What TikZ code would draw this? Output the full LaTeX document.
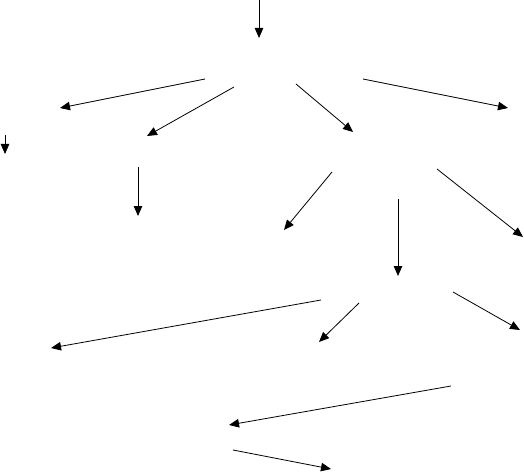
\documentclass[tikz,border=0pt]{standalone}
\usetikzlibrary{arrows.meta}

\begin{document}
\begin{tikzpicture}[
    x=1pt, y=-1pt,
    edge/.style={draw, line width=0.8pt, -{Triangle[length=10pt, width=8.5pt]}}
  ]
  \useasboundingbox (0,0) rectangle (524,473);

  % top level
  \coordinate (rootIn) at (259,0);
  \coordinate (rootOut) at (259,38);

  % second level
  \coordinate (l2aFrom) at (205,79);
  \coordinate (l2aTo) at (60,108);
  \coordinate (l2bFrom) at (234,87);
  \coordinate (l2bTo) at (147,136);
  \coordinate (l2cFrom) at (296,84);
  \coordinate (l2cTo) at (353,132);
  \coordinate (l2dFrom) at (363,79);
  \coordinate (l2dTo) at (508,108);

  % third level
  \coordinate (l3aFrom) at (5,135);
  \coordinate (l3aTo) at (5,154);
  \coordinate (l3bFrom) at (138,167);
  \coordinate (l3bTo) at (138,216);
  \coordinate (l3cFrom) at (332,172);
  \coordinate (l3cTo) at (284,230);
  \coordinate (l3dFrom) at (437,169);
  \coordinate (l3dTo) at (523,237);
  \coordinate (l3eFrom) at (398,199);
  \coordinate (l3eTo) at (398,276);

  % fourth level
  \coordinate (l4aFrom) at (321,300);
  \coordinate (l4aTo) at (51,348);
  \coordinate (l4bFrom) at (359,303);
  \coordinate (l4bTo) at (319,342);
  \coordinate (l4cFrom) at (453,292);
  \coordinate (l4cTo) at (520,330);

  % bottom
  \coordinate (l5aFrom) at (451,386);
  \coordinate (l5aTo) at (229,425);
  \coordinate (l5bFrom) at (233,450);
  \coordinate (l5bTo) at (331,469);

  \path[edge] (rootIn) -- (rootOut);
  \path[edge] (l2aFrom) -- (l2aTo);
  \path[edge] (l2bFrom) -- (l2bTo);
  \path[edge] (l2cFrom) -- (l2cTo);
  \path[edge] (l2dFrom) -- (l2dTo);
  \path[edge] (l3aFrom) -- (l3aTo);
  \path[edge] (l3bFrom) -- (l3bTo);
  \path[edge] (l3cFrom) -- (l3cTo);
  \path[edge] (l3dFrom) -- (l3dTo);
  \path[edge] (l3eFrom) -- (l3eTo);
  \path[edge] (l4aFrom) -- (l4aTo);
  \path[edge] (l4bFrom) -- (l4bTo);
  \path[edge] (l4cFrom) -- (l4cTo);
  \path[edge] (l5aFrom) -- (l5aTo);
  \path[edge] (l5bFrom) -- (l5bTo);

\end{tikzpicture}
\end{document}
